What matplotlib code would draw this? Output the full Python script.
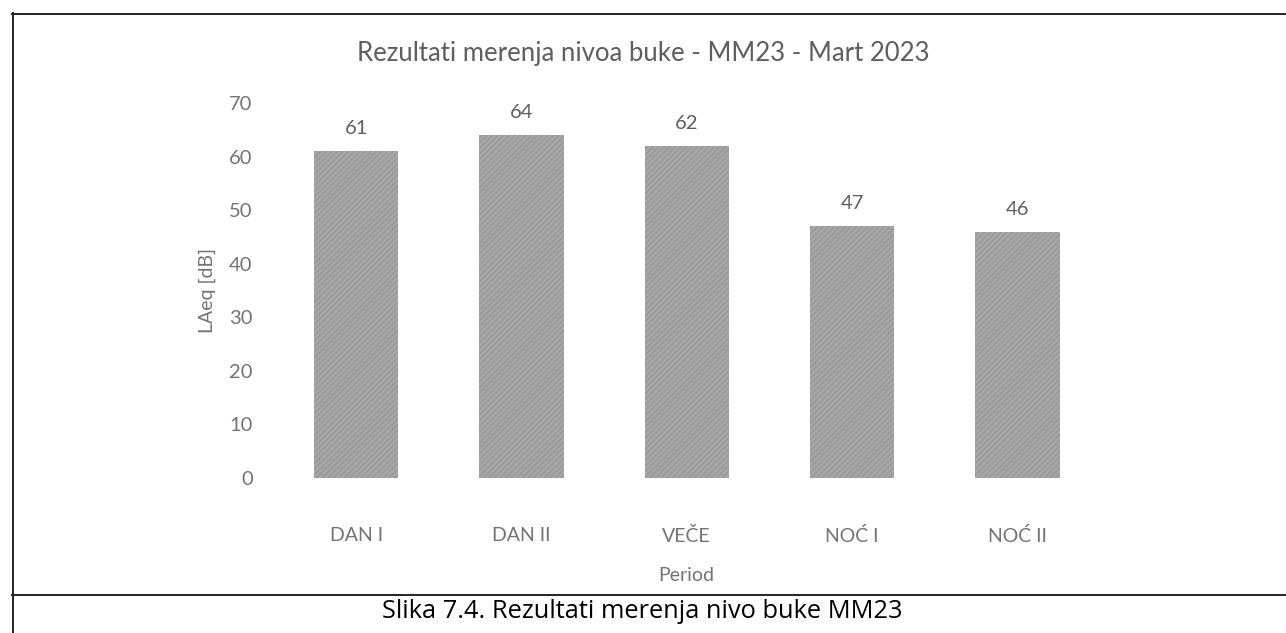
import matplotlib
matplotlib.use("Agg")
import matplotlib.pyplot as plt
from matplotlib.lines import Line2D

periods = ["DAN I", "DAN II", "VEČE", "NOĆ I", "NOĆ II"]
laeq = [61, 64, 62, 47, 46]
yticks = [0, 10, 20, 30, 40, 50, 60, 70]

title = "Rezultati merenja nivoa buke - MM23 - Mart 2023"
caption = "Slika 7.4. Rezultati merenja nivo buke MM23"

W, H = 1286, 633
fig = plt.figure(figsize=(W / 100, H / 100), dpi=100)
fig.patch.set_facecolor("white")

fam = ["Lato", "DejaVu Sans"]
gray = "#737373"

ax = fig.add_axes([273.5 / W, 1 - 478 / H, (1100 - 273.5) / W, (478 - 103) / H])
x = list(range(len(periods)))
bars = ax.bar(x, laeq, width=0.51, color="#a6a6a6", linewidth=0,
              hatch="//////")
for b in bars:
    b.set_edgecolor("#979797")
for xi, v in zip(x, laeq):
    ax.text(xi, v + 2.6, str(v), ha="center", va="bottom", fontsize=14.5,
            color="#606060", family=fam)

ax.set_xlim(-0.5, len(periods) - 0.5)
ax.set_ylim(0, 70)
ax.set_yticks(yticks)
ax.set_yticklabels([str(t) for t in yticks], family=fam, fontsize=14.5,
                   color=gray)
ax.set_xticks(x)
ax.set_xticklabels(periods, family=fam, fontsize=14, color=gray)
ax.tick_params(axis="y", length=0, pad=15)
ax.tick_params(axis="x", length=0, pad=35)
for s in ax.spines.values():
    s.set_visible(False)

ax.set_xlabel("Period", family=fam, fontsize=14, color=gray, labelpad=16)
ax.set_ylabel("LAeq [dB]", family=fam, fontsize=14, color=gray)
ax.yaxis.set_label_coords((216 - 273.5) / (1100 - 273.5), 0.5)

fig.text(0.5, 1 - 53 / H, title, ha="center", va="center", fontsize=18.5,
         color="#5e5e5e", family=fam)

fig.text(642 / W, 1 - 611 / H, caption, ha="center", va="center", fontsize=18.3,
         color="black", family=["Open Sans", "DejaVu Sans"])

# frame around the figure and caption separator
def hline(y, x0, x1):
    fig.add_artist(Line2D([x0 / W, x1 / W], [1 - y / H, 1 - y / H],
                          color="#222222", linewidth=1.4))

hline(13.5, 12, W)
hline(595, 12, W)
fig.add_artist(Line2D([13 / W, 13 / W], [0, 1 - 13 / H], color="#222222",
                      linewidth=1.4))

fig.savefig("out.png", dpi=100, facecolor="white")
